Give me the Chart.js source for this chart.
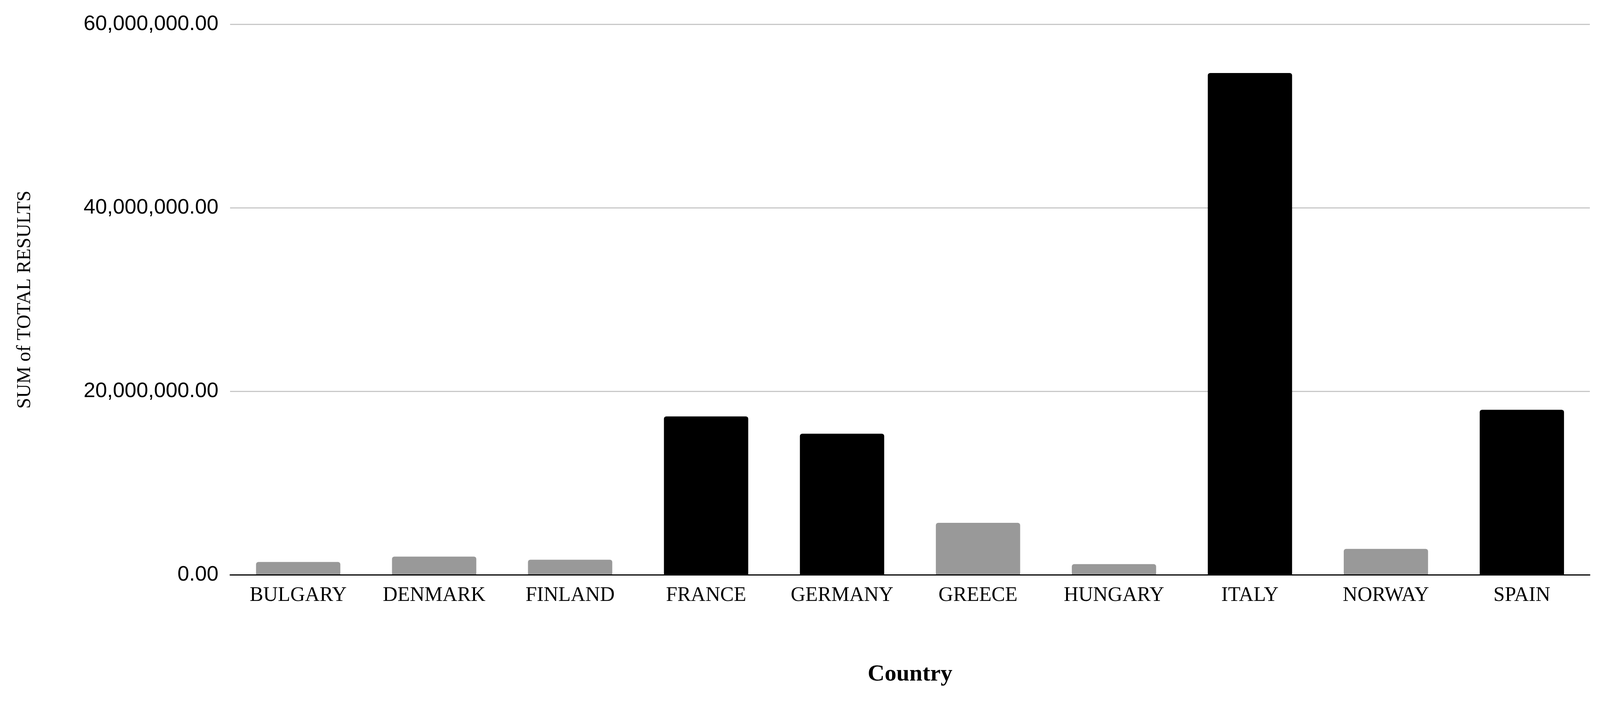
<!DOCTYPE html>
<html>
<head>
<meta charset="utf-8">
<script src="https://cdn.jsdelivr.net/npm/chart.js@4"></script>
<style>
  html, body { margin: 0; padding: 0; background: #fff; overflow: hidden; }
  #wrap { position: absolute; left: 0; top: 0; width: 100vw; height: 100vh; }
</style>
</head>
<body>
<div id="wrap"><canvas id="chart"></canvas></div>
<script>
const countries = ["BULGARY", "DENMARK", "FINLAND", "FRANCE", "GERMANY", "GREECE", "HUNGARY", "ITALY", "NORWAY", "SPAIN"];
const totals = [1420000, 2000000, 1660000, 17280000, 15400000, 5680000, 1180000, 54700000, 2840000, 18000000];
const barColors = ["#999999", "#999999", "#999999", "#000000", "#000000", "#999999", "#999999", "#000000", "#999999", "#000000"];

new Chart(document.getElementById("chart").getContext("2d"), {
    type: "bar",
    data: {
        labels: countries,
        datasets: [{
            data: totals,
            backgroundColor: barColors,
            borderRadius: { topLeft: 6, topRight: 6 },
            borderSkipped: "bottom",
            categoryPercentage: 1,
            barPercentage: 0.62,
        }],
    },
    options: {
        responsive: true,
        maintainAspectRatio: false,
        animation: false,
        layout: { padding: { top: 35, right: 26, left: 30, bottom: 40 } },
        plugins: { legend: { display: false }, tooltip: { enabled: false } },
        scales: {
            x: {
                grid: { display: false },
                border: { color: "#000000", width: 3 },
                ticks: { color: "#000", font: { family: "Liberation Serif", size: 52 }, padding: 14 },
                title: {
                    display: true, text: "Country", color: "#000",
                    font: { family: "Liberation Serif", size: 60, weight: "bold" },
                    padding: { top: 120, bottom: 0 },
                },
            },
            y: {
                min: 0, max: 60000000,
                border: { display: false },
                grid: { color: "#c8c8c8", lineWidth: 3, drawTicks: false },
                ticks: {
                    stepSize: 20000000, color: "#000", padding: 30,
                    font: { family: "Liberation Sans", size: 54 },
                    callback: v => v.toLocaleString("en-US", { minimumFractionDigits: 2, maximumFractionDigits: 2 }),
                },
                title: {
                    display: true, text: "SUM of TOTAL RESULTS", color: "#000",
                    font: { family: "Liberation Serif", size: 50 },
                    padding: { bottom: 90 },
                },
            },
        },
    },
});
</script>
</body>
</html>
